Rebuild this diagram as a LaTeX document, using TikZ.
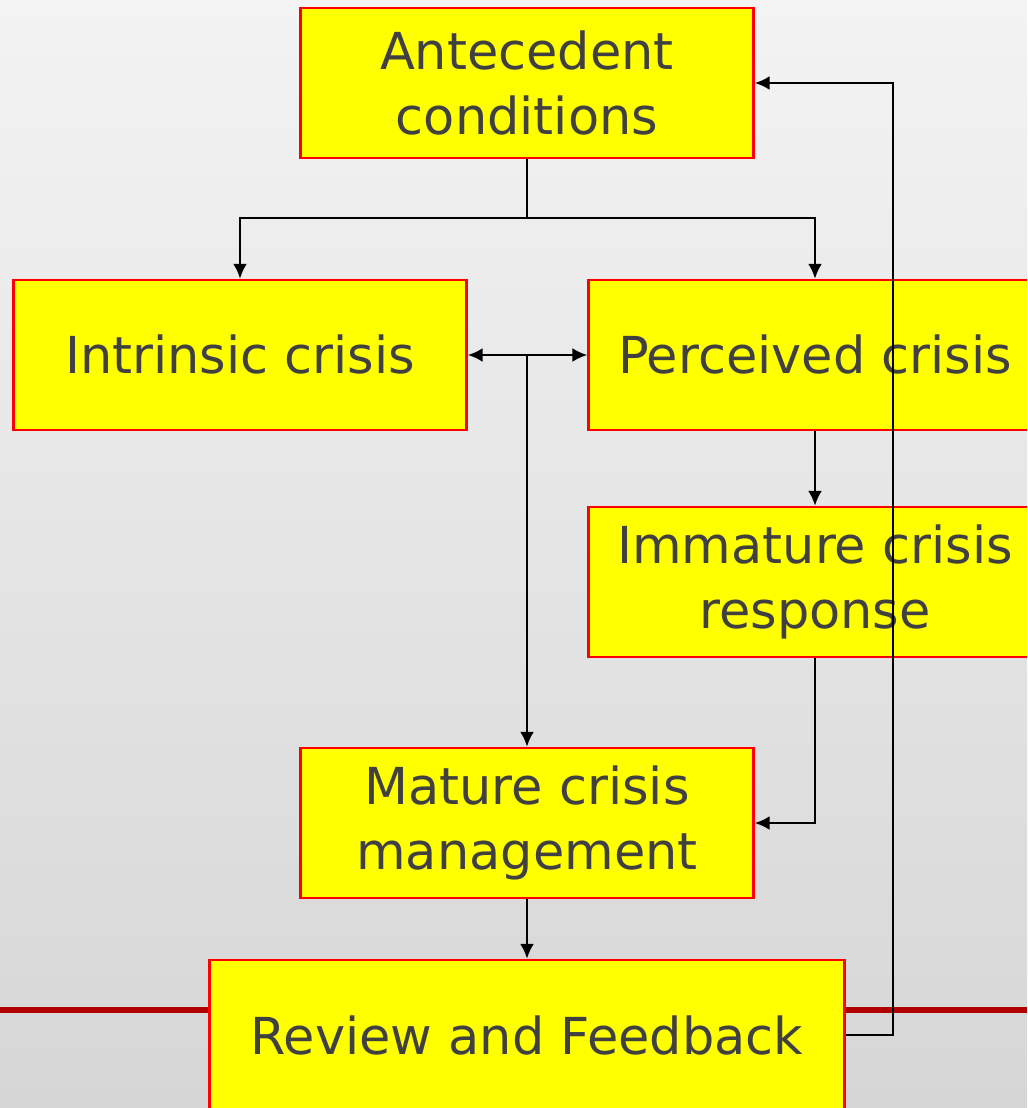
\documentclass[tikz,border=0pt]{standalone}
\usepackage{fontspec}
\setmainfont{DejaVu Sans}
\usetikzlibrary{arrows.meta,positioning}
\definecolor{boxyellow}{RGB}{255,255,0}
\definecolor{boxred}{RGB}{255,0,0}
\definecolor{textgray}{RGB}{64,64,64}
\definecolor{barred}{RGB}{176,0,0}
\definecolor{bgtop}{RGB}{243,243,243}
\definecolor{bgbottom}{RGB}{214,214,214}
\tikzset{
  stage/.style={draw=boxred, line width=1.3pt, fill=boxyellow,
                minimum width=9.06cm, minimum height=3cm, inner sep=0pt,
                align=center, text=textgray,
                font=\fontsize{29}{37}\selectfont},
  widestage/.style={stage, minimum width=12.7cm},
  link/.style={black, line width=1.6pt},
  flow/.style={link, -{Latex[length=3mm,width=2.8mm]}},
  twoway/.style={link, {Latex[length=3mm,width=2.8mm]}-{Latex[length=3mm,width=2.8mm]}},
}

\begin{document}
\begin{tikzpicture}[x=0.02cm,y=-0.02cm]
  \useasboundingbox (0,0) rectangle (1027,1108);
  \clip (0,0) rectangle (1027,1108);
  \shade[top color=bgtop, bottom color=bgbottom] (0,0) rectangle (1027,1108);
  \draw[barred, line width=3.4pt] (0,1010) -- (1027,1010);

  \node[stage] (ante) at (527,83) {Antecedent\\conditions};
  \node[stage] (intr) at (240,355) {Intrinsic crisis};
  \node[stage] (perc) at (815,355) {Perceived crisis};
  \node[stage] (imma) at (815,582) {Immature crisis\\response};
  \node[stage] (matu) at (527,823) {Mature crisis\\management};
  \node[widestage] (revi) at (527,1035) {Review and Feedback};

  \coordinate (split) at (527,218);
  \coordinate (hub) at (527,355);
  \coordinate (loop) at (893,1035);
  \draw[link] (ante.south) -- (split);
  \draw[flow] (split) -| (intr.north);
  \draw[flow] (split) -| (perc.north);
  \draw[twoway] (intr.east) -- (perc.west);
  \draw[flow] (hub) -- (matu.north);
  \draw[flow] (perc.south) -- (imma.north);
  \draw[flow] (imma.south) |- (matu.east);
  \draw[flow] (matu.south) -- (revi.north);
  \draw[flow] (revi.east) -- (loop) |- (ante.east);
\end{tikzpicture}
\end{document}
